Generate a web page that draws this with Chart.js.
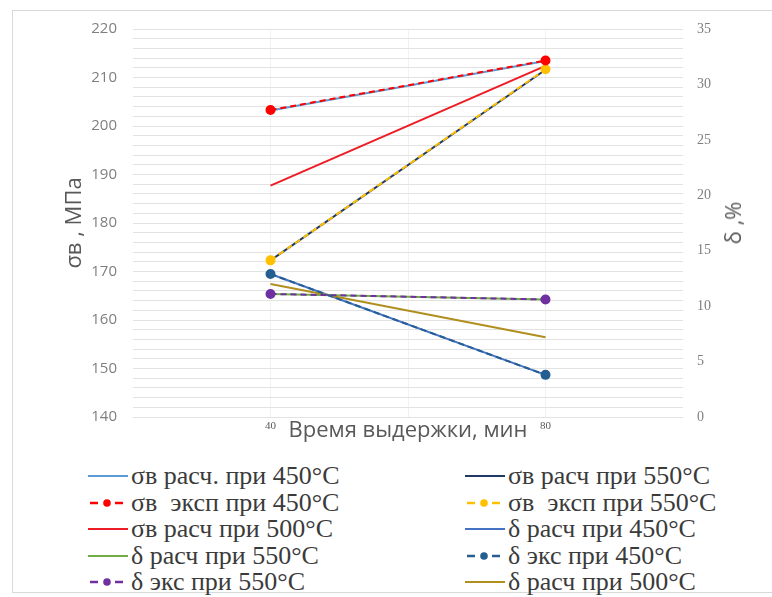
<!DOCTYPE html>
<html>
<head>
<meta charset="utf-8">
<title>σв и δ от времени выдержки</title>
<script src="https://cdn.jsdelivr.net/npm/chart.js@4.4.1/dist/chart.umd.min.js"></script>
<style>
    body {
        margin: 0;
        width: 772px;
        height: 597px;
        overflow: hidden;
        background: #fff;
        position: relative;
    }
    .frame {
        position: absolute;
        left: 12px;
        top: 10px;
        width: 800px;
        height: 581px;
        border: 1px solid #d9d9d9;
    }
    .chart-box {
        position: absolute;
        left: 0;
        top: 0;
        width: 772px;
        height: 460px;
    }
    .right-title {
        position: absolute;
        left: 732px;
        top: 223px;
        transform: translate(-50%, -50%) rotate(-90deg);
        font-family: "Open Sans", sans-serif;
        font-size: 22px;
        color: #595959;
        white-space: nowrap;
    }
    .serif {
        font-family: "Liberation Serif", serif;
    }
    .preload {
        position: absolute;
        left: -1000px;
        top: 0;
    }
    .legend-item {
        position: absolute;
        height: 26px;
        line-height: 26px;
        font-size: 26px;
        color: #3b3b3b;
        white-space: pre;
    }
    .legend-item svg {
        vertical-align: middle;
        margin-right: 3px;
        margin-top: -4px;
    }
</style>
</head>
<body>
<div class="frame"></div>
<div class="chart-box"><canvas id="chart"></canvas></div>
<div class="right-title">δ ,%</div>
<div id="legend" class="serif"></div>
<span class="preload serif">σв расч при 450°C 0123456789</span>

<script>
// Время выдержки, мин
const times = [40, 80];

// σв, МПа (левая ось)
const sigmaCalc450 = [203.2, 213.4];
const sigmaCalc550 = [172.3, 211.6];
const sigmaExp450 = [203.3, 213.5];
const sigmaExp550 = [172.3, 211.7];
const sigmaCalc500 = [187.7, 212.4];

// δ, % (правая ось)
const deltaCalc450 = [12.9, 3.8];
const deltaCalc550 = [11.1, 10.6];
const deltaExp450 = [12.9, 3.8];
const deltaExp550 = [11.1, 10.6];
const deltaCalc500 = [12.0, 7.2];

const xTickLabels = [40, 80];

const SERIF = "'Liberation Serif', serif";
const SANS = "'Open Sans', sans-serif";

function toPoints(values) {
    return times.map((t, i) => ({ x: t, y: values[i] }));
}

function solid(label, values, color, axis, order) {
    return {
        label: label,
        data: toPoints(values),
        yAxisID: axis,
        borderColor: color,
        backgroundColor: color,
        borderWidth: 2,
        pointRadius: 0,
        order: order,
        dashed: false
    };
}

function dashed(label, values, color, axis) {
    return {
        label: label,
        data: toPoints(values),
        yAxisID: axis,
        borderColor: color,
        backgroundColor: color,
        borderWidth: 2,
        borderDash: [6, 4],
        pointRadius: 4,
        pointBackgroundColor: color,
        pointBorderColor: color,
        order: 0,
        dashed: true
    };
}

// order as in the legend (two columns, row by row)
const datasets = [
    solid('σв расч. при 450°C', sigmaCalc450, '#5B9BD5', 'y', 2),
    solid('σв расч при 550°C', sigmaCalc550, '#203864', 'y', 2),
    dashed('σв  эксп при 450°C', sigmaExp450, '#FF0000', 'y'),
    dashed('σв  эксп при 550°C', sigmaExp550, '#FFC000', 'y'),
    solid('σв расч при 500°C', sigmaCalc500, '#EE1C25', 'y', 1),
    solid('δ расч при 450°C', deltaCalc450, '#4472C4', 'y1', 2),
    solid('δ расч при 550°C', deltaCalc550, '#70AD47', 'y1', 2),
    dashed('δ экс при 450°C', deltaExp450, '#255E91', 'y1'),
    dashed('δ экс при 550°C', deltaExp550, '#7030A0', 'y1'),
    solid('δ расч при 500°C', deltaCalc500, '#B08F1F', 'y1', 1)
];

let chart;

function createChart() {
    chart = new Chart(document.getElementById('chart'), {
        type: 'line',
        data: { datasets: datasets },
        options: {
            responsive: true,
            maintainAspectRatio: false,
            animation: false,
            layout: {
                padding: { top: 29, bottom: 16, left: 0, right: 0 }
            },
            plugins: {
                legend: { display: false },
                tooltip: { enabled: false }
            },
            scales: {
                x: {
                    type: 'linear',
                    min: 20,
                    max: 100,
                    ticks: {
                        stepSize: 20,
                        autoSkip: false,
                        maxRotation: 0,
                        padding: 3,
                        color: '#595959',
                        font: { family: SERIF, size: 11 },
                        callback: (v) => xTickLabels.includes(v) ? String(v) : ''
                    },
                    grid: {
                        drawTicks: false,
                        color: (c) => (c.tick && (c.tick.value === 20 || c.tick.value === 100)) ? 'rgba(0,0,0,0)' : '#f1f1f1'
                    },
                    border: { display: false },
                    title: {
                        display: true,
                        text: 'Время выдержки, мин',
                        color: '#595959',
                        font: { family: SANS, size: 22 },
                        padding: { top: 0, bottom: 0 }
                    },
                    afterFit: (s) => { s.height = 27; }
                },
                y: {
                    position: 'left',
                    min: 140,
                    max: 220,
                    ticks: {
                        stepSize: 2,
                        autoSkip: false,
                        padding: 16,
                        color: '#7f7f7f',
                        font: { family: SANS, size: 15 },
                        callback: (v) => v % 10 === 0 ? String(v) : ''
                    },
                    grid: { drawTicks: false, color: '#e2e2e2' },
                    border: { display: false },
                    title: {
                        display: true,
                        text: 'σв , МПа',
                        color: '#595959',
                        font: { family: SANS, size: 22 },
                        padding: { top: 61.8, bottom: 0 }
                    },
                    afterFit: (s) => { s.width = 133; }
                },
                y1: {
                    position: 'right',
                    min: 0,
                    max: 35,
                    ticks: {
                        stepSize: 5,
                        padding: 14,
                        color: '#7f7f7f',
                        font: { family: SERIF, size: 14 }
                    },
                    grid: { display: false, drawTicks: false },
                    border: { display: false },
                    afterFit: (s) => { s.width = 89; }
                }
            }
        }
    });
}

// HTML legend in two columns, built from the chart datasets
function legendSample(ds) {
    const c = ds.borderColor;
    if (ds.dashed) {
        return `<svg width="40" height="12">
            <line x1="2" y1="6" x2="10" y2="6" stroke="${c}" stroke-width="2.5"/>
            <circle cx="19" cy="6" r="3.8" fill="${c}"/>
            <line x1="27" y1="6" x2="35" y2="6" stroke="${c}" stroke-width="2.5"/>
        </svg>`;
    }
    return `<svg width="40" height="12">
        <line x1="0" y1="6" x2="40" y2="6" stroke="${c}" stroke-width="2"/>
    </svg>`;
}

function renderLegend() {
    const container = document.getElementById('legend');
    const columnsX = [88, 465];
    const firstRowTop = 463;
    const rowStep = 26.5;
    container.innerHTML = chart.data.datasets.map((ds, i) => {
        const left = columnsX[i % 2];
        const top = firstRowTop + Math.floor(i / 2) * rowStep;
        return `<div class="legend-item" style="left:${left}px; top:${top}px">${legendSample(ds)}${ds.label}</div>`;
    }).join('');
}

async function init() {
    // make sure the fonts are ready before drawing on the canvas
    try {
        await Promise.all([
            document.fonts.load('26px "Liberation Serif"', 'σв расч 450°C'),
            document.fonts.load('14px "Liberation Serif"', '0123456789'),
            document.fonts.load('22px "Open Sans"', 'Время σв МПа')
        ]);
    } catch (e) {
        console.error('Font loading failed:', e);
    }
    createChart();
    renderLegend();
}

init();
</script>
</body>
</html>
